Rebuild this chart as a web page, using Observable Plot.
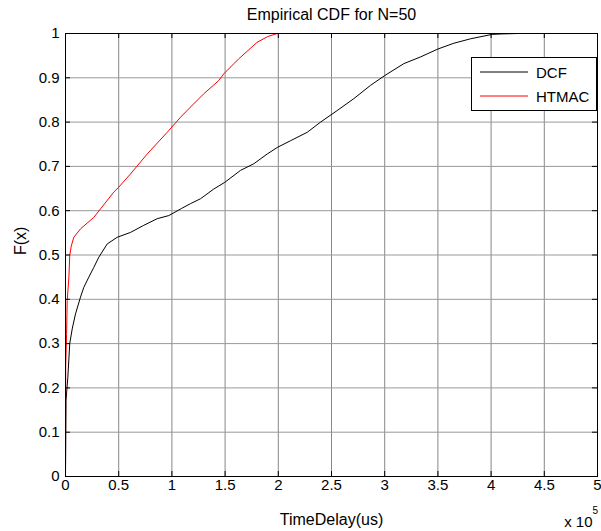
<!DOCTYPE html>
<html>
<head>
<meta charset="utf-8">
<script src="https://cdn.jsdelivr.net/npm/d3@7"></script>
<script src="https://cdn.jsdelivr.net/npm/@observablehq/plot@0.6"></script>
<style>
  html, body { margin: 0; padding: 0; background: #fff; }
  #wrap { position: relative; width: 601px; height: 531px; font-family: "Liberation Sans", Arial, sans-serif; }
  #legend { position: absolute; left: 471px; top: 57px; }
</style>
</head>
<body>
<div id="wrap"></div>
<script>
// Tick values (x in units of 1e5 us)
const xTicks = [0, 0.5, 1, 1.5, 2, 2.5, 3, 3.5, 4, 4.5, 5];
const yTicks = [0, 0.1, 0.2, 0.3, 0.4, 0.5, 0.6, 0.7, 0.8, 0.9, 1];

// DCF empirical CDF
const dcfX = [0, 0.005, 0.022, 0.040, 0.063, 0.094, 0.141, 0.172, 0.219, 0.266, 0.313, 0.392, 0.486, 0.611, 0.736, 0.862, 0.971, 1.09, 1.175, 1.269, 1.394, 1.497, 1.645, 1.770, 1.896, 1.992, 2.115, 2.272, 2.397, 2.553, 2.71, 2.867, 3.0, 3.18, 3.336, 3.50, 3.65, 3.806, 4.01, 4.1, 4.25];
const dcfF = [0, 0.172, 0.224, 0.30, 0.333, 0.367, 0.405, 0.427, 0.45, 0.472, 0.495, 0.525, 0.540, 0.551, 0.567, 0.582, 0.589, 0.605, 0.616, 0.627, 0.649, 0.664, 0.691, 0.706, 0.728, 0.743, 0.758, 0.777, 0.80, 0.826, 0.853, 0.883, 0.905, 0.932, 0.947, 0.965, 0.978, 0.988, 0.998, 0.999, 1.0];

// HTMAC empirical CDF
const htmacX = [0, 0.002, 0.01, 0.016, 0.032, 0.04, 0.054, 0.078, 0.141, 0.266, 0.454, 0.50, 0.611, 0.768, 0.956, 1.081, 1.175, 1.30, 1.441, 1.488, 1.629, 1.80, 1.90, 1.99, 2.33];
const htmacF = [0, 0.247, 0.32, 0.397, 0.45, 0.499, 0.52, 0.54, 0.559, 0.585, 0.642, 0.653, 0.683, 0.728, 0.777, 0.811, 0.834, 0.864, 0.894, 0.909, 0.943, 0.98, 0.993, 1.0, 1.0];

const seriesNames = ["DCF", "HTMAC"];
const seriesColors = ["#000000", "#ff0000"];

const dcf = dcfX.map((x, i) => ({x, F: dcfF[i]}));
const htmac = htmacX.map((x, i) => ({x, F: htmacF[i]}));

const W = 601, H = 531;
const mL = 65, mR = 4, mT = 33, mB = 55;
const fw = W - mL - mR, fh = H - mT - mB;
const tl = 5;
const font = "'Liberation Sans', Arial, sans-serif";

const chart = Plot.plot({
  width: W, height: H,
  marginLeft: mL, marginRight: mR, marginTop: mT, marginBottom: mB,
  style: {fontFamily: font, fontSize: "15px", background: "#fff", color: "#000", overflow: "visible"},
  x: {domain: [0, 5]},
  y: {domain: [0, 1]},
  marks: [
    Plot.gridX(xTicks, {stroke: "#555", strokeOpacity: 1, strokeWidth: 0.7}),
    Plot.gridY(yTicks, {stroke: "#999", strokeOpacity: 1, strokeWidth: 1}),
    Plot.axisX(xTicks, {tickSize: 0, tickPadding: 3, label: null, fontSize: 15, tickFormat: d3.format("")}),
    Plot.axisY(yTicks, {tickSize: 0, tickPadding: 6, label: null, fontSize: 15, tickFormat: d3.format("")}),
    Plot.line(dcf, {x: "x", y: "F", stroke: seriesColors[0], strokeWidth: 1}),
    Plot.line(htmac, {x: "x", y: "F", stroke: seriesColors[1], strokeWidth: 1}),
    Plot.tickX(xTicks, {x: d => d, insetTop: fh - tl, stroke: "#000"}),
    Plot.tickX(xTicks, {x: d => d, insetBottom: fh - tl, stroke: "#000"}),
    Plot.tickY(yTicks, {y: d => d, insetRight: fw - tl, stroke: "#000"}),
    Plot.tickY(yTicks, {y: d => d, insetLeft: fw - tl, stroke: "#000"}),
    Plot.frame({stroke: "#000", strokeWidth: 1}),
    Plot.text(["Empirical CDF for N=50"], {frameAnchor: "top", dy: -13.5, lineAnchor: "bottom", fontSize: 16, fill: "#000"}),
    Plot.text(["TimeDelay(us)"], {frameAnchor: "bottom", dy: 48, lineAnchor: "bottom", fontSize: 16, fill: "#000"}),
    Plot.text(["F(x)"], {frameAnchor: "left", dx: -45, rotate: -90, lineAnchor: "middle", fontSize: 16, fill: "#000"}),
    Plot.text(["x 10"], {frameAnchor: "bottom-right", dx: -5, dy: 50, textAnchor: "end", lineAnchor: "bottom", fontSize: 15, fill: "#000"}),
    Plot.text(["5"], {frameAnchor: "bottom-right", dx: -5, dy: 37, textAnchor: "start", lineAnchor: "bottom", fontSize: 10, fill: "#000"})
  ]
});

const wrap = document.getElementById("wrap");
wrap.appendChild(chart);

// Legend (HTML overlay built with d3)
const lg = d3.select(wrap).append("svg")
  .attr("id", "legend")
  .attr("width", 127).attr("height", 55)
  .style("font-family", font).style("font-size", "15px");
lg.append("rect").attr("x", 0.5).attr("y", 0.5).attr("width", 125).attr("height", 53)
  .attr("fill", "#fff").attr("stroke", "#000");
seriesNames.forEach((name, i) => {
  const cy = 15 + i * 24;
  lg.append("line").attr("x1", 9).attr("x2", 57).attr("y1", cy).attr("y2", cy)
    .attr("stroke", seriesColors[i]).attr("stroke-width", 1);
  lg.append("text").attr("x", 65).attr("y", cy + 5.5).attr("fill", "#000").text(name);
});
</script>
</body>
</html>
